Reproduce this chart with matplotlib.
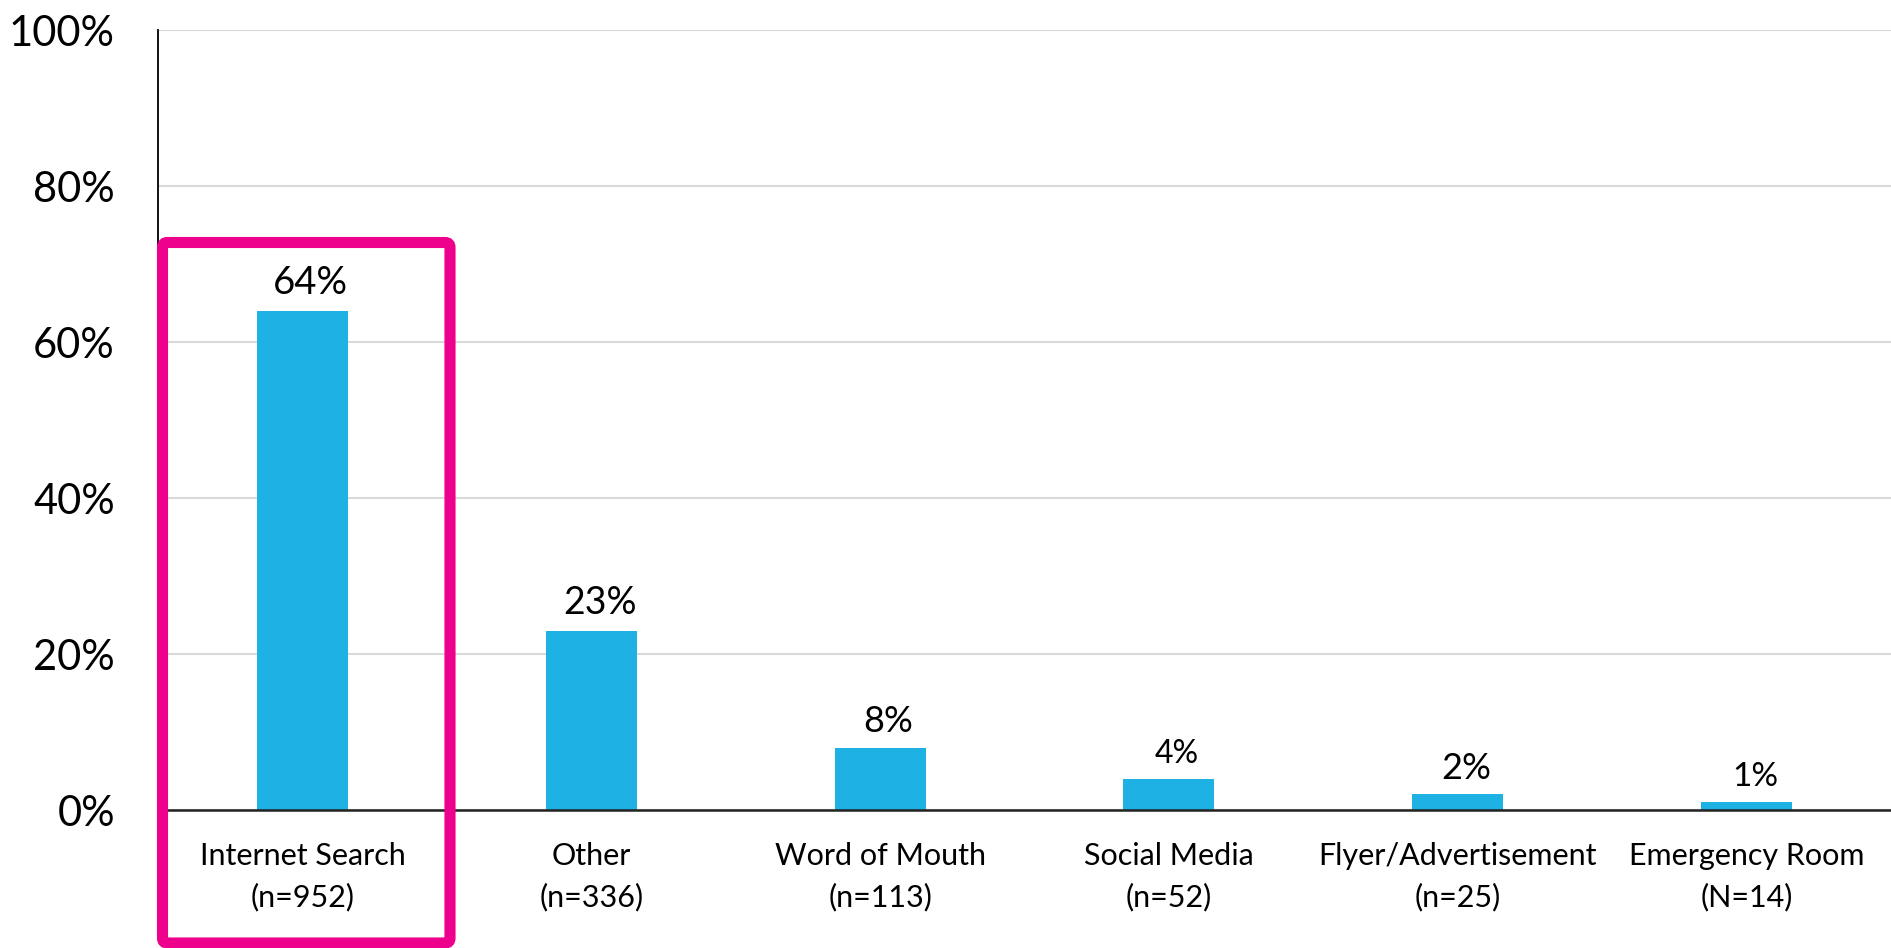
import matplotlib
matplotlib.use("Agg")
import matplotlib.pyplot as plt
from matplotlib.patches import FancyBboxPatch
from matplotlib.transforms import IdentityTransform

# data
categories = ["Internet Search", "Other", "Word of Mouth", "Social Media",
              "Flyer/Advertisement", "Emergency Room"]
counts = ["(n=952)", "(n=336)", "(n=113)", "(n=52)", "(n=25)", "(N=14)"]
percent = [64, 23, 8, 4, 2, 1]
yticks = [0, 20, 40, 60, 80, 100]

bar_color = "#1EB1E4"
pink = "#EC008C"

plt.rcParams["font.family"] = ["Lato", "DejaVu Sans"]

W, H = 1891, 948
fig = plt.figure(figsize=(W / 100, H / 100), dpi=100)
ax = fig.add_axes([158 / W, 1 - 810 / H, 1 - 158 / W, 780 / H])

x = list(range(len(categories)))
ax.bar(x, percent, width=0.315, color=bar_color, zorder=3)

# value labels above the bars
label_sizes = [27.5, 27, 26, 23, 26, 24]
for xi, p, fs in zip(x, percent, label_sizes):
    ax.annotate(f"{p}%", (xi, p), xytext=(6, 7), textcoords="offset points",
                ha="center", va="bottom", fontsize=fs, color="black")

ax.set_xlim(-0.5, len(categories) - 0.5)
ax.set_ylim(0, 100)
ax.set_yticks(yticks)
ax.set_yticklabels([f"{t}%" for t in yticks], fontsize=30)
ax.set_xticks(x)
ax.set_xticklabels([f"{c}\n{n}" for c, n in zip(categories, counts)],
                   fontsize=22, linespacing=1.55)
ax.tick_params(axis="x", length=0, pad=23)
ax.tick_params(axis="y", length=0, pad=31)

ax.grid(axis="y", color="#D9D9D9", linewidth=1.5, zorder=0)
for side in ["top", "right"]:
    ax.spines[side].set_visible(False)
ax.spines["left"].set_color("black")
ax.spines["left"].set_linewidth(1.3)
ax.spines["bottom"].set_color("#222222")
ax.spines["bottom"].set_linewidth(1.8)
ax.spines["bottom"].set_zorder(4)

# pink highlight box round the first category (pixel coordinates)
box = FancyBboxPatch((162.5, H - 943), 450 - 162.5, 943 - 242.5,
                     boxstyle="round,pad=0,rounding_size=5",
                     transform=IdentityTransform(), fill=False,
                     edgecolor=pink, linewidth=8, zorder=10)
fig.patches.append(box)

fig.savefig("out.png", dpi=100)
